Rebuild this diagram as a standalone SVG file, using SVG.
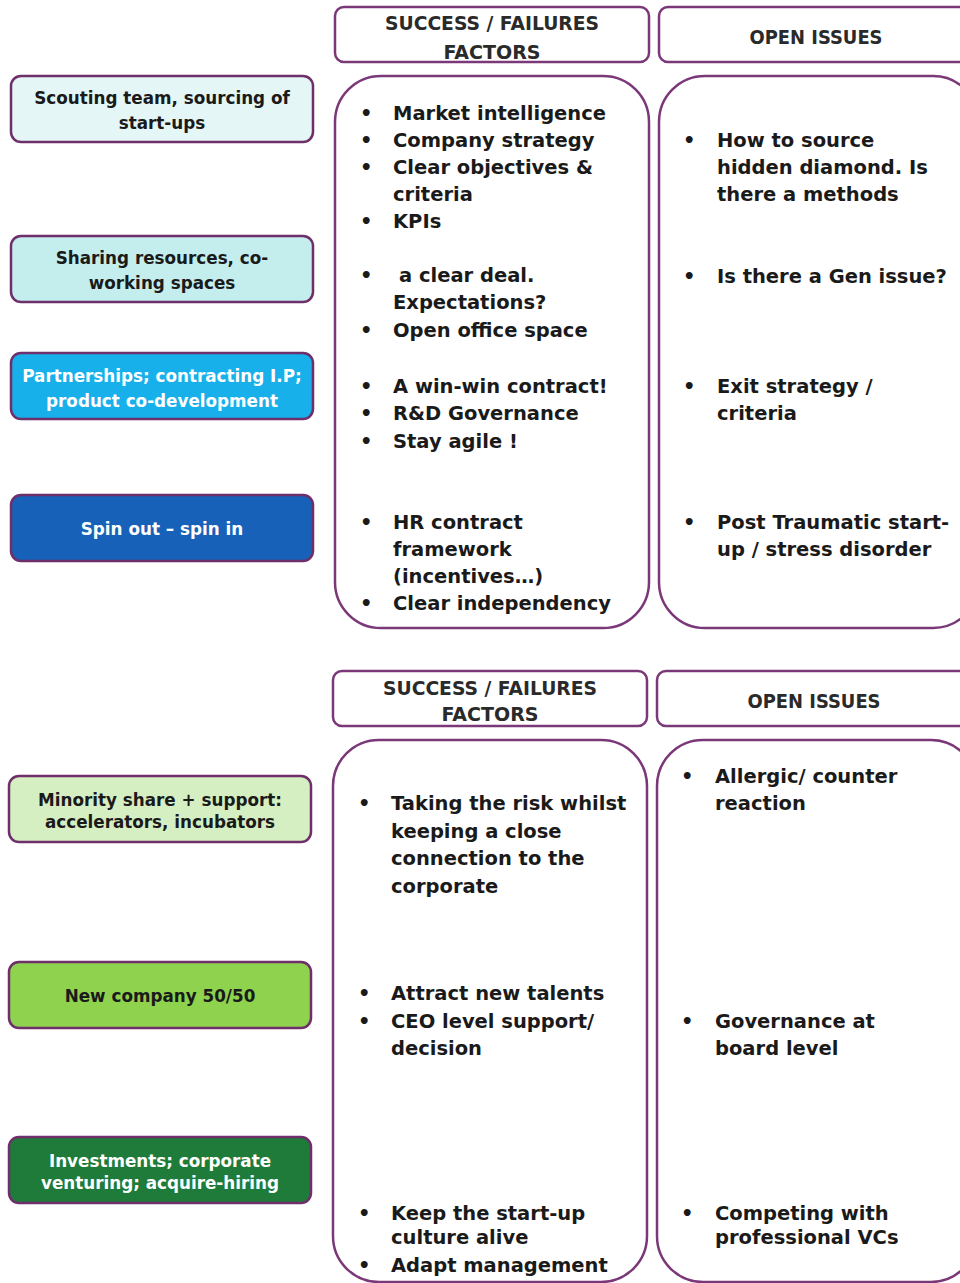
<svg xmlns="http://www.w3.org/2000/svg" width="960" height="1283" viewBox="0 0 960 1283">
<style>
.hdr{fill:#fff;stroke:#7a3878;stroke-width:2.5}
.big{fill:#fff;stroke:#7a3878;stroke-width:2.5}
.lb{stroke:#6e2f6a;stroke-width:2.5}
.t{font-family:"DejaVu Sans",sans-serif;font-weight:bold;font-size:19.5px;fill:#1a1a1a}
.h{font-family:"DejaVu Sans",sans-serif;font-weight:bold;font-size:20px;fill:#2a2a2a;text-anchor:middle}
.l{font-family:"DejaVu Sans",sans-serif;font-weight:bold;font-size:16.8px;text-anchor:middle}
.dk{fill:#1a1a1a}
.wh{fill:#ffffff}
</style>
<rect width="960" height="1283" fill="#fff"/>

<g id="left-nodes">
<g id="n-scouting"><rect class="lb" x="11" y="76" width="302" height="66" rx="10" fill="#e4f6f6"/>
<text class="l dk" x="162" y="104">Scouting team, sourcing of</text><text class="l dk" x="162" y="129">start-ups</text></g>
<g id="n-sharing"><rect class="lb" x="11" y="236" width="302" height="66" rx="10" fill="#c4eeee"/>
<text class="l dk" x="162" y="264">Sharing resources, co-</text><text class="l dk" x="162" y="289">working spaces</text></g>
<g id="n-partner"><rect class="lb" x="11" y="353" width="302" height="66" rx="10" fill="#17b0ea"/>
<text class="l wh" x="162" y="382">Partnerships; contracting I.P;</text><text class="l wh" x="162" y="407">product co-development</text></g>
<g id="n-spin"><rect class="lb" x="11" y="495" width="302" height="66" rx="10" fill="#1762b8"/>
<text class="l wh" x="162" y="535">Spin out – spin in</text></g>
<g id="n-minority"><rect class="lb" x="9" y="776" width="302" height="66" rx="10" fill="#d6efc2"/>
<text class="l dk" x="160" y="806">Minority share + support:</text><text class="l dk" x="160" y="828">accelerators, incubators</text></g>
<g id="n-newco"><rect class="lb" x="9" y="962" width="302" height="66" rx="10" fill="#8ed24e"/>
<text class="l dk" x="160" y="1002">New company 50/50</text></g>
<g id="n-invest"><rect class="lb" x="9" y="1137" width="302" height="66" rx="10" fill="#1e7b3a"/>
<text class="l wh" x="160" y="1167">Investments; corporate</text><text class="l wh" x="160" y="1189">venturing; acquire-hiring</text></g>
</g>

<g id="top-section">
<g id="h-sf1"><rect class="hdr" x="335" y="7" width="314" height="55" rx="9"/>
<text class="h" x="492" y="30" textLength="214" lengthAdjust="spacingAndGlyphs">SUCCESS / FAILURES</text><text class="h" x="492" y="59" textLength="97" lengthAdjust="spacingAndGlyphs">FACTORS</text></g>
<g id="h-oi1"><rect class="hdr" x="659" y="7" width="320" height="55" rx="9"/>
<text class="h" x="816" y="44" textLength="133" lengthAdjust="spacingAndGlyphs">OPEN ISSUES</text></g>
<g id="b-sf1"><rect class="big" x="335" y="76" width="314" height="552" rx="46"/>
<g class="t">
<text x="360" y="120">•</text><text x="393" y="120">Market intelligence</text>
<text x="360" y="147">•</text><text x="393" y="147">Company strategy</text>
<text x="360" y="174">•</text><text x="393" y="174">Clear objectives &amp;</text>
<text x="393" y="201">criteria</text>
<text x="360" y="228">•</text><text x="393" y="228">KPIs</text>
<text x="360" y="282">•</text><text x="399" y="282">a clear deal.</text>
<text x="393" y="309">Expectations?</text>
<text x="360" y="337">•</text><text x="393" y="337">Open office space</text>
<text x="360" y="393">•</text><text x="393" y="393">A win-win contract!</text>
<text x="360" y="420">•</text><text x="393" y="420">R&amp;D Governance</text>
<text x="360" y="448">•</text><text x="393" y="448">Stay agile !</text>
<text x="360" y="529">•</text><text x="393" y="529">HR contract</text>
<text x="393" y="556">framework</text>
<text x="393" y="583">(incentives…)</text>
<text x="360" y="610">•</text><text x="393" y="610">Clear independency</text>
</g></g>
<g id="b-oi1"><rect class="big" x="659" y="76" width="320" height="552" rx="46"/>
<g class="t">
<text x="683" y="147">•</text><text x="717" y="147">How to source</text>
<text x="717" y="174">hidden diamond. Is</text>
<text x="717" y="201">there a methods</text>
<text x="683" y="283">•</text><text x="717" y="283">Is there a Gen issue?</text>
<text x="683" y="393">•</text><text x="717" y="393">Exit strategy /</text>
<text x="717" y="420">criteria</text>
<text x="683" y="529">•</text><text x="717" y="529">Post Traumatic start-</text>
<text x="717" y="556">up / stress disorder</text>
</g></g>
</g>

<g id="bottom-section">
<g id="h-sf2"><rect class="hdr" x="333" y="671" width="314" height="55" rx="9"/>
<text class="h" x="490" y="695" textLength="214" lengthAdjust="spacingAndGlyphs">SUCCESS / FAILURES</text><text class="h" x="490" y="721" textLength="97" lengthAdjust="spacingAndGlyphs">FACTORS</text></g>
<g id="h-oi2"><rect class="hdr" x="657" y="671" width="320" height="55" rx="9"/>
<text class="h" x="814" y="708" textLength="133" lengthAdjust="spacingAndGlyphs">OPEN ISSUES</text></g>
<g id="b-sf2"><rect class="big" x="333" y="740" width="314" height="542" rx="46"/>
<g class="t">
<text x="358" y="810">•</text><text x="391" y="810">Taking the risk whilst</text>
<text x="391" y="838">keeping a close</text>
<text x="391" y="865">connection to the</text>
<text x="391" y="893">corporate</text>
<text x="358" y="1000">•</text><text x="391" y="1000">Attract new talents</text>
<text x="358" y="1028">•</text><text x="391" y="1028">CEO level support/</text>
<text x="391" y="1055">decision</text>
<text x="358" y="1220">•</text><text x="391" y="1220">Keep the start-up</text>
<text x="391" y="1244">culture alive</text>
<text x="358" y="1272">•</text><text x="391" y="1272">Adapt management</text>
</g></g>
<g id="b-oi2"><rect class="big" x="657" y="740" width="320" height="542" rx="46"/>
<g class="t">
<text x="681" y="783">•</text><text x="715" y="783">Allergic/ counter</text>
<text x="715" y="810">reaction</text>
<text x="681" y="1028">•</text><text x="715" y="1028">Governance at</text>
<text x="715" y="1055">board level</text>
<text x="681" y="1220">•</text><text x="715" y="1220">Competing with</text>
<text x="715" y="1244">professional VCs</text>
</g></g>
</g>
<g id="connectors"></g>
</svg>
